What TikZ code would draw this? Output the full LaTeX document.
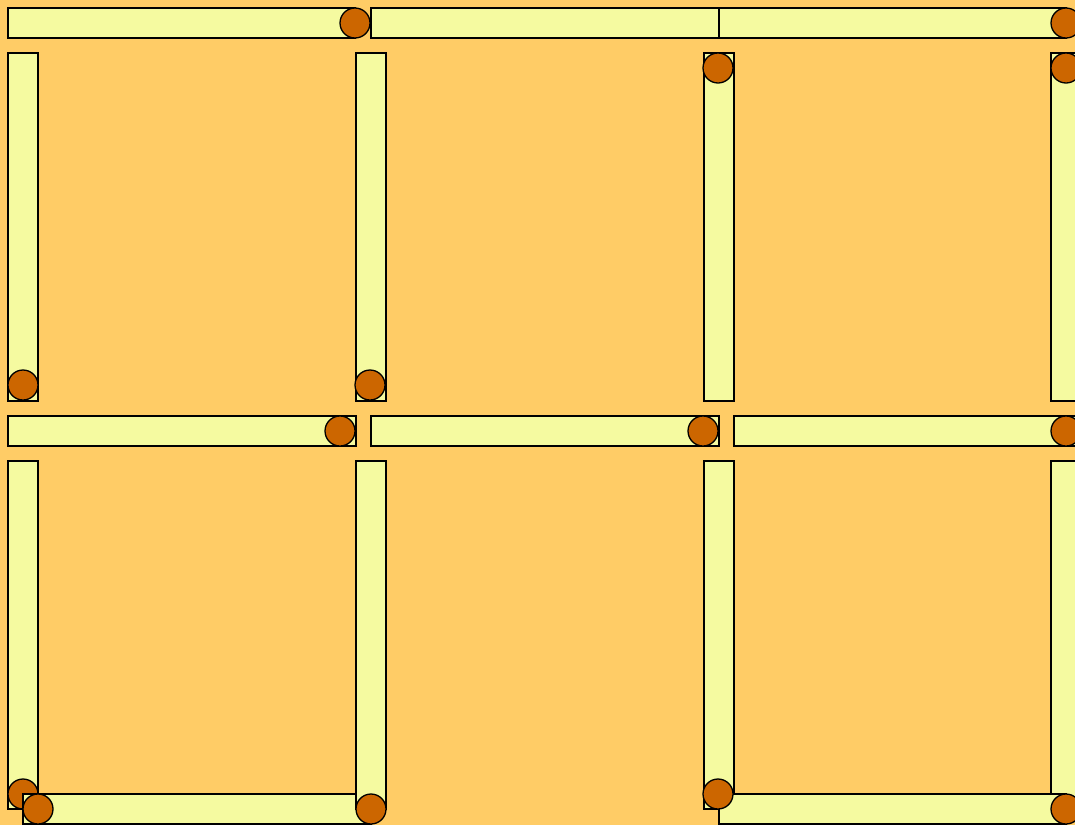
\documentclass[tikz,border=0pt]{standalone}
\definecolor{bg}{RGB}{255,204,102}
\definecolor{wood}{RGB}{245,250,160}
\definecolor{tip}{RGB}{204,102,0}
\tikzset{
  stick/.style={fill=wood,draw=black,line width=1.3pt},
  headc/.style={fill=tip,draw=black,line width=1.3pt}
}
\begin{document}
\begin{tikzpicture}[x=1pt,y=-1pt]
\fill[bg] (0,0) rectangle (1075,825);
\useasboundingbox (0,0) rectangle (1075,825);
% top row horizontals
\draw[stick] (8,8) rectangle (355,38);
\draw[headc] (355,23) circle (15);
\draw[stick] (371,8) rectangle (719,38);
\draw[stick] (719,8) rectangle (1066,38);
\draw[headc] (1066,23) circle (15);
% top row verticals
\draw[stick] (8,53) rectangle (38,401);
\draw[headc] (23,385) circle (15);
\draw[stick] (356,53) rectangle (386,401);
\draw[headc] (370,385) circle (15);
\draw[stick] (704,53) rectangle (734,401);
\draw[headc] (718,68) circle (15);
\draw[stick] (1051,53) rectangle (1081,401);
\draw[headc] (1066,68) circle (15);
% middle horizontals
\draw[stick] (8,416) rectangle (356,446);
\draw[headc] (340,431) circle (15);
\draw[stick] (371,416) rectangle (719,446);
\draw[headc] (703,431) circle (15);
\draw[stick] (734,416) rectangle (1082,446);
\draw[headc] (1066,431) circle (15);
% bottom verticals and horizontals
\draw[stick] (8,461) rectangle (38,809);
\draw[headc] (23,794) circle (15);
\draw[stick] (23,794) rectangle (371,824);
\draw[headc] (38,809) circle (15);
\draw[stick] (356,461) rectangle (386,809);
\draw[headc] (371,809) circle (15);
\draw[stick] (704,461) rectangle (734,809);
\draw[stick] (1051,461) rectangle (1081,809);
\draw[stick] (719,794) rectangle (1066,824);
\draw[headc] (1066,809) circle (15);
\draw[headc] (718,794) circle (15);
\end{tikzpicture}
\end{document}
